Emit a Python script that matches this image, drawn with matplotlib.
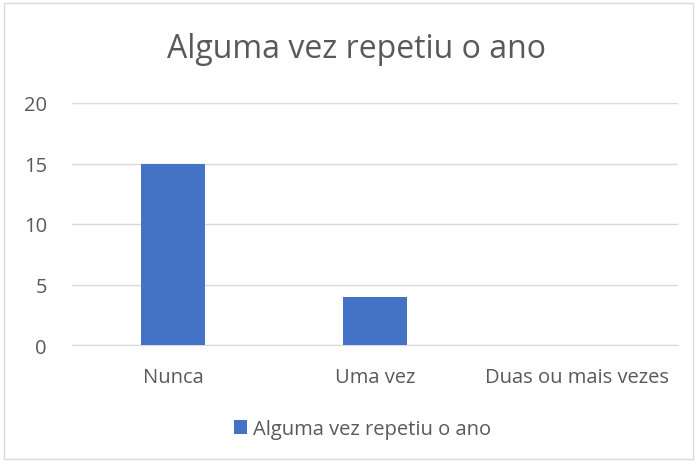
import matplotlib.pyplot as plt
from matplotlib.patches import Rectangle

categories = ["Nunca", "Uma vez", "Duas ou mais vezes"]
values = [15, 4, 0]
series_name = "Alguma vez repetiu o ano"
yticks = [0, 5, 10, 15, 20]

plt.rcParams['font.family'] = ['Open Sans', 'DejaVu Sans']
text_color = "#595959"
bar_color = "#4472C4"

fig = plt.figure(figsize=(6.97, 4.64), dpi=100)
fig.patches.append(Rectangle((0.006, 0.008), 0.988, 0.984, transform=fig.transFigure,
                             fill=False, edgecolor="#d9d9d9", linewidth=1))

ax = fig.add_axes([72 / 697, 1 - 346 / 464, 606 / 697, 242 / 464])
x = range(len(categories))
ax.bar(x, values, width=0.317, color=bar_color, label=series_name, zorder=3)
ax.set_xlim(-0.5, len(categories) - 0.5)
ax.set_ylim(0, 20)
ax.set_yticks(yticks)
ax.set_xticks(list(x))
ax.set_xticklabels(categories)
ax.yaxis.grid(True, color="#d9d9d9", linewidth=1, zorder=0)
for s in ["top", "right", "left"]:
    ax.spines[s].set_visible(False)
ax.spines["bottom"].set_color("#d9d9d9")
ax.tick_params(axis="both", length=0, labelsize=14.5, colors=text_color)
ax.tick_params(axis="x", pad=16)
ax.tick_params(axis="y", pad=18)

fig.text(0.512, 1 - 50 / 464, series_name, ha="center", va="center",
         fontsize=23, color=text_color)
fig.legend(loc="center", bbox_to_anchor=(0.52, 1 - 430 / 464), frameon=False,
           fontsize=14.5, labelcolor=text_color, handlelength=0.65, handleheight=0.65,
           handletextpad=0.3)

fig.savefig("out.png", dpi=100)
